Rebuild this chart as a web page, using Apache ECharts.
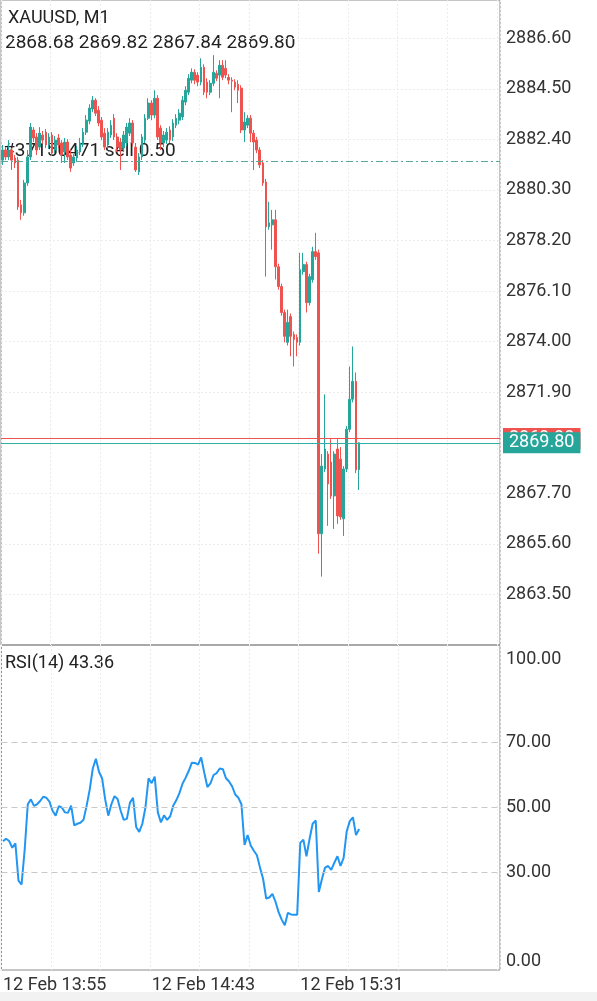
<!DOCTYPE html>
<html>
<head>
<meta charset="utf-8">
<script src="https://cdn.jsdelivr.net/npm/echarts@6/dist/echarts.min.js"></script>
<style>
html, body { margin: 0; padding: 0; background: #fff; }
#chart { width: 597px; height: 1001px; }
</style>
</head>
<body>
<div id="chart"></div>
<script>
// XAUUSD M1 candles
var opens = [
    2881.54, 2881.96, 2881.67, 2881.96, 2881.63, 2881.54, 2879.68, 2879.35, 2880.59, 2881.67,
    2882.79, 2882.50, 2882.08, 2882.58, 2882.70, 2882.17, 2882.58, 2881.96, 2882.46, 2882.25,
    2881.88, 2882.29, 2881.75, 2881.42, 2881.63, 2881.88, 2882.21, 2882.70, 2883.16, 2883.66,
    2884.03, 2883.61, 2883.20, 2882.66, 2882.17, 2882.58, 2883.28, 2882.50, 2882.29, 2882.04,
    2882.25, 2882.66, 2883.08, 2882.08, 2881.05, 2881.67, 2882.37, 2883.28, 2883.91, 2883.41,
    2884.11, 2882.87, 2882.25, 2882.37, 2882.79, 2882.50, 2882.99, 2883.20, 2883.33, 2883.95,
    2884.36, 2884.86, 2885.19, 2885.07, 2884.78, 2885.40, 2884.78, 2884.36, 2884.73, 2885.15,
    2885.07, 2885.48, 2885.35, 2884.98, 2884.86, 2884.78, 2884.69, 2884.53, 2882.79, 2882.99,
    2883.28, 2882.66, 2882.37, 2881.96, 2881.42, 2880.63, 2878.77, 2878.85, 2879.06, 2877.11,
    2876.29, 2875.21, 2873.97, 2875.04, 2874.30, 2874.17, 2873.97, 2876.91, 2877.20, 2875.62,
    2876.58, 2877.74, 2877.69, 2866.02, 2868.71, 2869.33, 2869.00, 2867.59, 2869.54, 2869.12,
    2866.64, 2868.71, 2870.36, 2871.61, 2872.35, 2868.68
];
var closes = [
    2881.96, 2881.67, 2881.96, 2881.54, 2881.42, 2879.60, 2879.35, 2880.59, 2881.67, 2882.91,
    2882.46, 2881.96, 2882.66, 2882.37, 2882.17, 2882.50, 2881.83, 2882.37, 2882.17, 2881.75,
    2882.29, 2881.67, 2881.21, 2881.67, 2881.96, 2882.25, 2882.70, 2883.20, 2883.70, 2884.03,
    2883.49, 2883.08, 2882.50, 2882.08, 2882.70, 2882.99, 2882.50, 2882.08, 2881.96, 2882.58,
    2882.91, 2883.08, 2882.25, 2881.13, 2881.67, 2882.50, 2883.28, 2883.91, 2883.41, 2884.11,
    2882.50, 2882.25, 2882.58, 2882.70, 2882.37, 2883.08, 2883.28, 2883.49, 2884.03, 2884.44,
    2884.94, 2885.19, 2884.86, 2884.78, 2885.40, 2884.36, 2884.36, 2884.73, 2885.19, 2884.94,
    2885.48, 2884.98, 2885.07, 2884.86, 2884.82, 2884.57, 2884.44, 2882.79, 2883.12, 2883.28,
    2882.66, 2882.29, 2881.96, 2881.34, 2880.59, 2878.77, 2878.94, 2879.06, 2877.11, 2876.29,
    2875.21, 2874.22, 2874.80, 2874.22, 2874.09, 2873.97, 2876.99, 2877.20, 2875.62, 2876.70,
    2877.74, 2877.53, 2866.02, 2868.83, 2869.54, 2868.09, 2867.59, 2869.33, 2866.76, 2866.72,
    2868.71, 2870.36, 2871.61, 2872.35, 2868.67, 2869.80
];
var lows = [
    2881.34, 2881.54, 2881.54, 2881.13, 2881.21, 2879.47, 2879.06, 2879.23, 2880.47, 2881.54,
    2882.29, 2881.75, 2881.96, 2882.21, 2882.04, 2882.00, 2881.71, 2881.83, 2882.04, 2881.42,
    2881.42, 2881.54, 2881.05, 2881.30, 2881.46, 2881.75, 2882.08, 2882.58, 2883.03, 2883.53,
    2883.37, 2882.95, 2882.37, 2881.96, 2882.04, 2882.46, 2882.37, 2881.88, 2881.13, 2881.88,
    2882.12, 2882.54, 2882.12, 2881.05, 2880.92, 2881.54, 2882.25, 2883.20, 2883.20, 2883.28,
    2882.37, 2881.96, 2882.08, 2882.21, 2882.25, 2882.33, 2882.87, 2883.03, 2883.20, 2883.82,
    2884.24, 2884.73, 2884.69, 2884.61, 2884.65, 2884.24, 2884.11, 2884.24, 2884.61, 2884.82,
    2884.11, 2884.86, 2884.94, 2884.69, 2883.53, 2884.44, 2883.91, 2882.66, 2882.29, 2882.87,
    2882.29, 2881.13, 2881.83, 2881.21, 2880.47, 2876.70, 2878.65, 2877.82, 2876.58, 2876.16,
    2875.08, 2873.97, 2873.84, 2873.39, 2872.97, 2873.39, 2873.84, 2876.78, 2875.21, 2875.50,
    2876.45, 2877.40, 2865.19, 2864.24, 2868.58, 2866.35, 2867.47, 2866.22, 2866.43, 2866.60,
    2865.93, 2868.58, 2870.24, 2871.48, 2868.54, 2867.84
];
var highs = [
    2882.17, 2882.08, 2882.37, 2882.04, 2881.75, 2881.67, 2879.89, 2880.72, 2881.96, 2883.08,
    2882.91, 2882.66, 2882.91, 2882.75, 2882.83, 2882.66, 2882.70, 2882.54, 2882.62, 2882.37,
    2882.46, 2882.41, 2881.96, 2881.79, 2882.12, 2882.46, 2882.87, 2883.41, 2883.86, 2884.20,
    2884.11, 2883.78, 2883.33, 2882.87, 2882.87, 2883.20, 2883.45, 2882.66, 2882.46, 2882.75,
    2883.08, 2883.28, 2883.20, 2882.25, 2881.83, 2882.62, 2883.45, 2884.11, 2884.03, 2884.44,
    2884.24, 2882.99, 2882.75, 2882.87, 2882.95, 2883.24, 2883.45, 2883.66, 2884.20, 2884.61,
    2885.11, 2885.35, 2885.31, 2885.19, 2885.77, 2885.52, 2884.94, 2884.86, 2885.90, 2885.27,
    2885.69, 2885.69, 2885.69, 2885.11, 2884.98, 2884.90, 2884.86, 2884.65, 2883.53, 2883.41,
    2883.41, 2882.79, 2882.50, 2882.08, 2881.54, 2880.76, 2879.81, 2879.47, 2879.47, 2877.24,
    2876.41, 2875.33, 2875.33, 2875.17, 2874.42, 2874.30, 2877.69, 2877.69, 2877.32, 2876.82,
    2877.94, 2878.52, 2877.82, 2869.33, 2871.81, 2869.45, 2869.95, 2869.45, 2869.95, 2869.62,
    2868.83, 2870.49, 2872.97, 2873.80, 2872.72, 2869.82
];
// RSI(14) values
var rsi = [
    39.6, 40.4, 39.7, 37.6, 39.0, 27.5, 26.3, 37.0, 51.0, 52.5,
    50.5, 51.0, 52.0, 53.3, 53.0, 51.8, 49.0, 47.5, 50.4, 50.0,
    48.5, 48.4, 50.6, 44.5, 45.0, 45.3, 46.2, 50.5, 55.5, 62.0,
    65.0, 61.0, 59.0, 52.5, 47.5, 51.0, 53.5, 52.6, 49.0, 46.2,
    46.5, 51.5, 53.0, 44.0, 42.5, 45.0, 50.0, 59.0, 57.5, 59.5,
    48.5, 45.4, 47.6, 46.2, 47.3, 50.6, 52.3, 54.5, 57.4, 59.2,
    61.3, 63.8, 63.7, 63.2, 65.4, 60.7, 56.3, 57.4, 60.0, 60.6,
    62.0, 61.8, 59.0, 58.0, 56.5, 54.0, 53.0, 51.0, 38.5, 41.5,
    38.3, 36.7, 35.3, 31.5, 28.0, 22.0, 22.3, 23.4, 21.0, 17.8,
    15.5, 13.8, 17.6, 17.1, 17.0, 17.0, 39.1, 40.1, 35.0, 40.3,
    45.0, 46.0, 24.0, 28.0, 31.5, 32.0, 30.8, 33.0, 35.0, 32.0,
    34.5, 42.7, 45.8, 47.0, 41.5, 43.36
];
var priceTicks = [2863.50, 2865.60, 2867.70, 2869.80, 2871.90, 2874.00, 2876.10, 2878.20, 2880.30, 2882.40, 2884.50, 2886.60];
var rsiTicks = [0, 30, 50, 70, 100];
var rsiLevels = [30, 50, 70];
var orderPrice = 2881.50;
var bidPrice = 2869.80;
var askPrice = 2869.98;

var up = '#26a69a';
var down = '#ef5350';
var labelColor = '#333';
var font = 'Roboto';

function pad(n) { return n < 10 ? '0' + n : '' + n; }

// one minute per slot, right part of the chart stays empty (chart shift)
var slots = 161;
var times = [];
for (var i = 0; i < slots; i++) {
    var m = 13 * 60 + 55 + i;
    times.push(pad(Math.floor(m / 60)) + ':' + pad(m % 60));
}
var candles = opens.map(function (o, i) {
    return [o, closes[i], lows[i], highs[i]];
});
var last = closes.length - 1;
var ohlcText = [opens[last], highs[last], lows[last], closes[last]].map(function (v) { return v.toFixed(2); }).join(' ');

function timeLabelAt(idx) {
    return idx % 48 === 0 && idx < closes.length;
}

var chart = echarts.init(document.getElementById('chart'));
var option = {
    animation: false,
    textStyle: { fontFamily: font },
    grid: [
        { left: 1, right: 97, top: -1, height: 646, show: true, borderColor: '#8c8c8c', borderWidth: 1 },
        { left: 1, right: 97, top: 645, height: 325, show: true, borderColor: '#8c8c8c', borderWidth: 1 }
    ],
    xAxis: [
        {
            type: 'category', gridIndex: 0, data: times, boundaryGap: true,
            axisLine: { show: false }, axisTick: { show: false }, axisLabel: { show: false },
            splitLine: { show: true, interval: 15, lineStyle: { color: '#ededed', type: [2, 2] } }
        },
        {
            type: 'category', gridIndex: 1, data: times, boundaryGap: true,
            axisLine: { show: false },
            axisTick: { show: false },
            axisLabel: {
                show: true, interval: timeLabelAt, align: 'left', margin: 6,
                color: labelColor, fontSize: 18, fontFamily: font,
                formatter: function (v) { return '12 Feb ' + v; }
            },
            splitLine: { show: true, interval: 15, lineStyle: { color: '#ededed', type: [2, 2] } }
        }
    ],
    yAxis: [
        {
            type: 'value', gridIndex: 0, position: 'right', min: 2861.40, max: 2888.19,
            axisLine: { show: false },
            axisTick: { show: false, customValues: priceTicks },
            axisLabel: {
                customValues: priceTicks, margin: 6, color: labelColor, fontSize: 18, fontFamily: font,
                formatter: function (v) { return v.toFixed(2); }
            },
            splitLine: { show: true, lineStyle: { color: '#ededed', type: [2, 2] } }
        },
        {
            type: 'value', gridIndex: 1, position: 'right', min: 0, max: 100,
            axisLine: { show: false },
            axisTick: { show: false, customValues: rsiTicks },
            axisLabel: {
                customValues: rsiTicks, margin: 6, color: labelColor, fontSize: 18, fontFamily: font,
                verticalAlignMinLabel: 'bottom', verticalAlignMaxLabel: 'top',
                formatter: function (v) {
                    return v === 100 ? '{top|' + v.toFixed(2) + '}' : v.toFixed(2);
                },
                rich: {
                    top: { fontSize: 18, fontFamily: font, color: labelColor, padding: [5, 0, 0, 0] }
                }
            },
            splitLine: { show: false }
        }
    ],
    series: [
        {
            type: 'candlestick',
            xAxisIndex: 0, yAxisIndex: 0,
            data: candles,
            barWidth: 2.2,
            itemStyle: { color: up, color0: down, borderColor: up, borderColor0: down, borderWidth: 1 },
            markLine: {
                silent: true, symbol: ['none', 'none'], animation: false,
                data: [
                    { yAxis: orderPrice, lineStyle: { color: '#5aa897', type: [7, 3, 2, 3], width: 1 }, label: { show: false } },
                    {
                        yAxis: askPrice, lineStyle: { color: down, type: 'solid', width: 1 },
                        label: { show: true, position: 'end', distance: 3, formatter: askPrice.toFixed(2), color: '#fff',
                            backgroundColor: down, padding: [2, 6, 1, 6], fontSize: 18, fontFamily: font }
                    },
                    {
                        yAxis: bidPrice, lineStyle: { color: '#2fb0a3', type: 'solid', width: 1 },
                        label: { show: true, position: 'end', distance: 3, formatter: bidPrice.toFixed(2), color: '#fff',
                            backgroundColor: up, padding: [2, 6, 1, 6], fontSize: 18, fontFamily: font }
                    }
                ]
            }
        },
        {
            type: 'line',
            xAxisIndex: 1, yAxisIndex: 1,
            data: rsi,
            symbol: 'none',
            lineStyle: { color: '#2196f3', width: 2 },
            markLine: {
                silent: true, symbol: ['none', 'none'], animation: false,
                lineStyle: { color: '#c8c8c8', type: [6, 4], width: 1 },
                label: { show: false },
                data: rsiLevels.map(function (v) { return { yAxis: v }; })
            }
        }
    ],
    graphic: [
        { type: 'text', left: 8, top: 9, style: { text: 'XAUUSD, M1', fontSize: 18, fontFamily: font, fill: '#222' } },
        { type: 'text', left: 5, top: 34, style: { text: ohlcText, fontSize: 19, fontFamily: font, fill: '#222' } },
        { type: 'text', left: 3, top: 142, style: { text: '#37150471 sell 0.50', fontSize: 19, fontFamily: font, fill: '#222' } },
        { type: 'text', left: 5, top: 654, style: { text: 'RSI(14) ' + rsi[last].toFixed(2), fontSize: 18, fontFamily: font, fill: '#222' } },
        { type: 'rect', left: 0, top: 992, shape: { width: 597, height: 9 }, style: { fill: '#f2f2f2' } }
    ]
};
chart.setOption(option);
window.addEventListener('resize', function () {
    chart.resize();
});
</script>
</body>
</html>
